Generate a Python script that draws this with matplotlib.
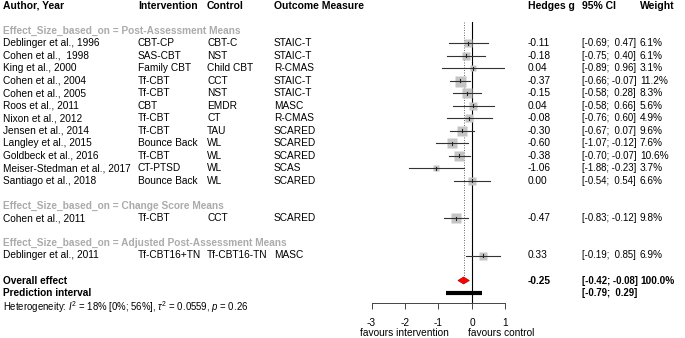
# forest plot of the trauma-focused therapy trials

import matplotlib.pyplot as plt
import matplotlib.transforms as mtransforms
import numpy as np

plt.rcParams['font.family'] = ['Liberation Sans', 'DejaVu Sans']
plt.rcParams['mathtext.fontset'] = 'custom'
plt.rcParams['mathtext.rm'] = 'Liberation Sans'
plt.rcParams['mathtext.it'] = 'Liberation Sans:italic'

groups = ["Effect_Size_based_on = Post-Assessment Means",
          "Effect_Size_based_on = Change Score Means",
          "Effect_Size_based_on = Adjusted Post-Assessment Means"]
group_of = [0, 0, 0, 0, 0, 0, 0, 0, 0, 0, 0, 0, 1, 2]

authors = ["Deblinger et al., 1996", "Cohen et al.,  1998", "King et al., 2000",
           "Cohen et al., 2004", "Cohen et al., 2005", "Roos et al., 2011",
           "Nixon et al., 2012", "Jensen et al., 2014", "Langley et al., 2015",
           "Goldbeck et al., 2016", "Meiser-Stedman et al., 2017",
           "Santiago et al., 2018", "Cohen et al., 2011", "Deblinger et al., 2011"]
interventions = ["CBT-CP", "SAS-CBT", "Family CBT", "Tf-CBT", "Tf-CBT", "CBT",
                 "Tf-CBT", "Tf-CBT", "Bounce Back", "Tf-CBT", "CT-PTSD",
                 "Bounce Back", "Tf-CBT", "Tf-CBT16+TN"]
controls = ["CBT-C", "NST", "Child CBT", "CCT", "NST", "EMDR", "CT", "TAU",
            "WL", "WL", "WL", "WL", "CCT", "Tf-CBT16-TN"]
outcomes = ["STAIC-T", "STAIC-T", "R-CMAS", "STAIC-T", "STAIC-T", "MASC",
            "R-CMAS", "SCARED", "SCARED", "SCARED", "SCAS", "SCARED",
            "SCARED", "MASC"]
g = [-0.11, -0.18, 0.04, -0.37, -0.15, 0.04, -0.08, -0.30, -0.60, -0.38,
     -1.06, 0.00, -0.47, 0.33]
lo = [-0.69, -0.75, -0.89, -0.66, -0.58, -0.58, -0.76, -0.67, -1.07, -0.70,
      -1.88, -0.54, -0.83, -0.19]
hi = [0.47, 0.40, 0.96, -0.07, 0.28, 0.66, 0.60, 0.07, -0.12, -0.07,
      -0.23, 0.54, -0.12, 0.85]
weights = [6.1, 6.1, 3.1, 11.2, 8.3, 5.6, 4.9, 9.6, 7.6, 10.6, 3.7, 6.6, 9.8, 6.9]

overall_g, overall_lo, overall_hi = -0.25, -0.42, -0.08
pred_lo, pred_hi = -0.79, 0.29
xticks = [-3, -2, -1, 0, 1]

W, H = 685, 338
fig = plt.figure(figsize=(W / 100, H / 100), dpi=100)
# pixel layout: x=-3 at 371.5px, x=1 at 505.5px; row r at 43 + 12.5*r px
ax = fig.add_axes([371.5 / W, 0, 134 / W, 1])
ax.set_xlim(-3, 1)
ax.set_ylim((H - 43) / 12.5, -43 / 12.5)
ax.patch.set_visible(False)

# work out row positions
rows, group_rows = [], []
r = -1
prev = None
for i, grp in enumerate(group_of):
    if grp != prev:
        if prev is not None:
            r += 2
        group_rows.append(r)
        r += 1
        prev = grp
    else:
        r += 1
    rows.append(r)
overall_row = rows[-1] + 2
pred_row = overall_row + 1
het_row = pred_row + 1
header_row = -3.0
axis_row = 20.76

fs = 7.25
fs_head = 7.5
fs_ci = 6.9
tr = mtransforms.blended_transform_factory(fig.transFigure, ax.transData)
def col(px):
    return px / W

# header
for px, s in [(3, "Author, Year"), (138, "Intervention"), (207, "Control"),
              (274, "Outcome Measure"), (528, "Hedges g"), (582, "95% CI"),
              (640, "Weight")]:
    ax.text(col(px), header_row, s, transform=tr, fontsize=fs_head,
            fontweight='bold', va='center', ha='left')

for gr, label in zip(group_rows, groups):
    ax.text(col(3), gr, label, transform=tr, fontsize=fs, fontweight='bold',
            color='#ababab', va='center', ha='left')

for i in range(len(authors)):
    y = rows[i]
    for px, s in [(3, authors[i]), (138, interventions[i]), (207, controls[i]),
                  (274, outcomes[i]), (528, f"{g[i]:.2f}"),
                  (640, f"{weights[i]:.1f}%")]:
        ax.text(col(px), y, s, transform=tr, fontsize=fs, va='center', ha='left')
    ax.text(col(582), y, f"[{lo[i]:5.2f}; {hi[i]:5.2f}]", transform=tr,
            fontsize=fs_ci, va='center', ha='left')
    side_px = 11 * np.sqrt(weights[i] / 11.2)
    ax.plot(g[i], y, 's', ms=side_px * 0.72, color='#c4c4c4', mec='none',
            zorder=2)
    ax.plot([lo[i], hi[i]], [y, y], color='#333333', lw=0.8, zorder=3)
    ax.plot([g[i], g[i]], [y - 0.12, y + 0.12], color='#222222', lw=0.8,
            zorder=4)

# overall
ax.text(col(3), overall_row, "Overall effect", transform=tr, fontsize=fs,
        fontweight='bold', va='center')
ax.text(col(3), pred_row, "Prediction interval", transform=tr, fontsize=fs,
        fontweight='bold', va='center')
ax.text(col(528), overall_row, f"{overall_g:.2f}", transform=tr, fontsize=fs,
        fontweight='bold', va='center')
ax.text(col(582), overall_row, f"[{overall_lo:5.2f}; {overall_hi:5.2f}]",
        transform=tr, fontsize=fs_ci, fontweight='bold', va='center')
ax.text(col(640), overall_row, "100.0%", transform=tr, fontsize=fs,
        fontweight='bold', va='center')
ax.text(col(582), pred_row, f"[{pred_lo:5.2f}; {pred_hi:5.2f}]",
        transform=tr, fontsize=fs_ci, fontweight='bold', va='center')
ax.text(col(3), het_row + 0.1,
        r"Heterogeneity: $I^2$ = 18% [0%; 56%], $\tau^2$ = 0.0559, $p$ = 0.26",
        transform=tr, fontsize=6.95, va='center')

dh = 0.28
ax.fill([overall_lo, overall_g, overall_hi, overall_g],
        [overall_row, overall_row - dh, overall_row, overall_row + dh],
        color='red', ec='#b00000', lw=0.5, zorder=5)
ax.plot([pred_lo, pred_hi], [pred_row, pred_row], color='black', lw=3,
        solid_capstyle='butt', zorder=5)

# reference lines
ax.plot([0, 0], [-1.68, axis_row], color='black', lw=0.8, zorder=1)
ax.plot([overall_g, overall_g], [-1.68, overall_row - dh], color='#555555',
        lw=0.6, ls=(0, (1.2, 1.8)), zorder=1)

# x axis
for s in ['top', 'right', 'left']:
    ax.spines[s].set_visible(False)
ax.spines['bottom'].set_position(('data', axis_row))
ax.spines['bottom'].set_bounds(xticks[0], xticks[-1])
ax.spines['bottom'].set_linewidth(0.7)
ax.spines['bottom'].set_color('#444444')
ax.set_yticks([])
ax.set_xticks(xticks)
ax.set_xticklabels([str(t) for t in xticks])
ax.tick_params(axis='x', direction='out', length=4, width=0.7,
               color='#444444', labelsize=fs, pad=7)
ax.text(-2.03, 23.2, "favours intervention", fontsize=fs, ha='center',
        va='center')
ax.text(0.86, 23.2, "favours control", fontsize=fs, ha='center', va='center')

fig.savefig("out.png", dpi=100)
